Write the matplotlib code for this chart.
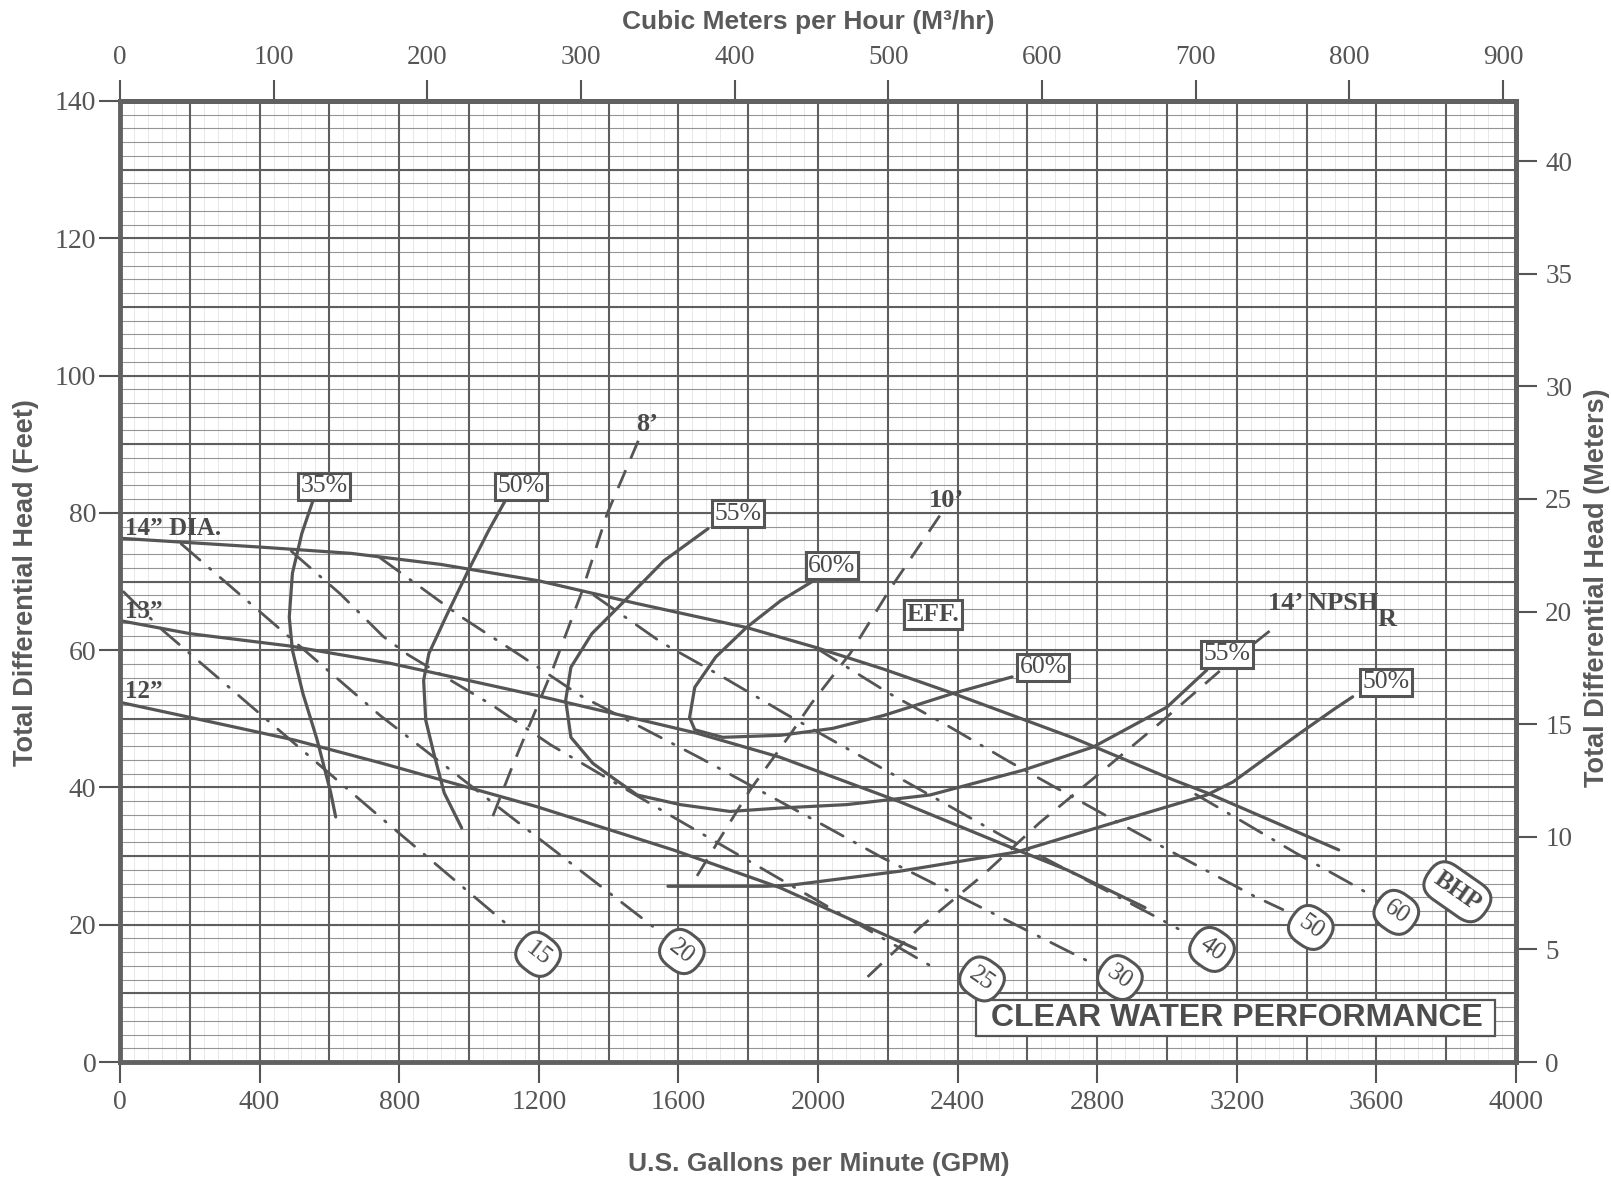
import numpy as np
import matplotlib.pyplot as plt
from matplotlib.patches import Rectangle

plt.rcParams['font.family'] = ['Liberation Serif', 'DejaVu Serif']

# =============================================================================
# data (GPM, feet)
# =============================================================================

# impeller head curves
h14_gpm = [0, 406, 662, 918, 1200, 1480, 1795, 1993, 2190, 2387, 2732, 3018, 3115, 3492]
h14_ft = [76.3, 75.0, 74.1, 72.5, 70.1, 66.8, 63.3, 60.4, 57.2, 53.7, 47.2, 41.1, 39.2, 30.9]
h13_gpm = [0, 201, 487, 773, 1194, 1412, 1653, 1891, 2235, 2570, 2713, 2937]
h13_ft = [64.3, 62.4, 60.6, 58.1, 53.4, 50.8, 47.9, 44.4, 37.9, 30.9, 28.0, 22.5]
h12_gpm = [0, 201, 500, 745, 1194, 1585, 1891, 2280]
h12_ft = [52.4, 50.2, 46.9, 43.6, 37.2, 30.9, 25.4, 16.5]

# efficiency curves
e35_gpm = [553, 521, 494, 485, 494, 524, 565, 604, 618]
e35_ft = [81.8, 77.0, 71.2, 64.8, 60.0, 53.7, 46.9, 39.2, 35.7]
e50_gpm = [1115, 1056, 998, 938, 885, 870, 876, 899, 929, 979]
e50_ft = [82.8, 77.4, 71.6, 65.3, 59.5, 55.6, 49.8, 45.0, 39.2, 34.1]
e55_gpm = [1685, 1558, 1446, 1352, 1292, 1277, 1292, 1355, 1412, 1482, 1605, 1748,
           1891, 2083, 2321, 2587, 2789, 3000, 3114]
e55_ft = [77.7, 73.0, 67.2, 62.4, 57.5, 52.7, 47.3, 43.5, 41.4, 38.9, 37.5, 36.5,
          37.0, 37.5, 38.9, 42.5, 45.9, 51.7, 57.1]
e60_gpm = [1987, 1893, 1795, 1707, 1647, 1632, 1647, 1727, 1893, 2042, 2189, 2387, 2556]
e60_ft = [70.1, 67.2, 63.3, 59.0, 54.6, 50.2, 48.4, 47.3, 47.6, 48.6, 50.5, 53.7, 56.1]
e50r_gpm = [1570, 1854, 1928, 2235, 2570, 2902, 3114, 3189, 3286, 3381, 3476, 3532]
e50r_ft = [25.6, 25.6, 25.8, 27.8, 30.6, 35.7, 38.9, 40.8, 44.4, 47.9, 51.3, 53.2]

# NPSHr lines
n8_gpm = [1485, 1396, 1322, 1242, 1189, 1126, 1055]
n8_ft = [90.5, 79.9, 68.3, 57.5, 51.0, 43.3, 34.1]
n10_gpm = [2349, 2209, 2092, 1982, 1923, 1805, 1711, 1640]
n10_ft = [79.6, 69.1, 59.5, 52.3, 47.9, 39.6, 31.9, 26.0]
n14_gpm = [2142, 2292, 2472, 2636, 2808, 2980, 3152, 3314]
n14_ft = [12.4, 19.6, 27.2, 34.9, 42.1, 49.4, 57.0, 63.6]

# brake horsepower lines
b15_gpm = [10, 120, 745, 1126]
b15_ft = [68.5, 63.0, 35.7, 19.3]
b20_gpm = [175, 745, 1194, 1538]
b20_ft = [75.5, 50.5, 32.8, 19.3]
b25_gpm = [491, 631, 754, 826, 1066, 1234, 1561, 1893, 2340]
b25_ft = [74.4, 68.2, 62.0, 59.3, 52.0, 46.2, 36.4, 26.6, 13.5]
b30_gpm = [744, 979, 1145, 1318, 1662, 2012, 2183, 2781]
b30_ft = [73.5, 64.8, 59.3, 53.4, 44.3, 34.6, 29.8, 14.5]
b40_gpm = [1358, 1552, 1727, 1904, 2082, 2526, 2974, 3032]
b40_ft = [68.0, 61.1, 56.1, 50.8, 45.7, 33.0, 21.0, 19.4]
b50_gpm = [1992, 2204, 2378, 2550, 2899, 3072, 3252, 3332]
b50_ft = [60.4, 53.7, 48.8, 43.7, 33.8, 29.0, 24.1, 22.2]
b60_gpm = [3082, 3217, 3367, 3516, 3581]
b60_ft = [39.0, 35.0, 30.5, 26.3, 24.4]

# labels
eff_text = ['35%', '50%', '55%', '60%', 'EFF.', '60%', '55%', '50%']
eff_gpm = [585, 1150, 1771, 2040, 2330, 2645, 3172, 3628]
eff_ft = [83.9, 83.9, 79.9, 72.3, 65.2, 57.5, 59.4, 55.3]

bhp_text = ['15', '20', '25', '30', '40', '50', '60', 'BHP']
bhp_gpm = [1198, 1610, 2470, 2865, 3129, 3412, 3657, 3832]
bhp_ft = [15.7, 16.1, 12.1, 12.3, 16.4, 19.6, 21.8, 24.8]
bhp_rot = [-38, -38, -35, -35, -35, -35, -35, -35]

dia_text = ['14\u201d DIA.', '13\u201d', '12\u201d']
dia_ft = [76.8, 64.7, 53.0]

npsh_text = ['8\u2019', '10\u2019', '14\u2019 NPSH']
npsh_gpm = [1510, 2367, 3290]
npsh_ft = [92.9, 81.8, 66.8]

gpm_ticks = list(range(0, 4001, 400))
ft_ticks = list(range(0, 141, 20))
m3h_ticks = list(range(0, 901, 100))
m_ticks = list(range(0, 41, 5))

GPM_PER_M3H = 4.4029
FT_PER_M = 3.2808

# =============================================================================
# plot
# =============================================================================

INK = '#555555'
TXT = '#4a4a4a'
GRID = '#5e5e5e'
SANS = ['Liberation Sans', 'DejaVu Sans']

fig = plt.figure(figsize=(16.11, 11.8), dpi=100)
ax = fig.add_axes([120 / 1611, 1 - 1062 / 1180, 1396 / 1611, 961 / 1180])
ax.set_xlim(0, 4000)
ax.set_ylim(0, 140)

# graph paper
for g in np.arange(40, 4000, 40):
    ax.axvline(g, color='#e4e4e4', lw=0.6, zorder=0)
for f in np.arange(2, 140, 2):
    ax.axhline(f, color='#959595', lw=0.8, zorder=0)
for g in np.arange(200, 4000, 200):
    ax.axvline(g, color=GRID, lw=1.5, zorder=1)
for f in np.arange(10, 140, 10):
    ax.axhline(f, color=GRID, lw=1.5, zorder=1)

solid = dict(color=INK, lw=2.3, zorder=3, solid_capstyle='round', solid_joinstyle='round')
for xs, ys in [(h14_gpm, h14_ft), (h13_gpm, h13_ft), (h12_gpm, h12_ft),
               (e35_gpm, e35_ft), (e50_gpm, e50_ft), (e55_gpm, e55_ft),
               (e60_gpm, e60_ft), (e50r_gpm, e50r_ft)]:
    ax.plot(xs, ys, **solid)

for xs, ys in [(n8_gpm, n8_ft), (n10_gpm, n10_ft), (n14_gpm, n14_ft)]:
    ax.plot(xs, ys, color=INK, lw=2.0, ls=(0, (7, 4.5)), zorder=3)

for xs, ys in [(b15_gpm, b15_ft), (b20_gpm, b20_ft), (b25_gpm, b25_ft),
               (b30_gpm, b30_ft), (b40_gpm, b40_ft), (b50_gpm, b50_ft),
               (b60_gpm, b60_ft)]:
    ax.plot(xs, ys, color=INK, lw=2.0, ls=(0, (9, 4.5, 0.6, 4.5)),
            dash_capstyle='round', zorder=3)

# labels
for t, x, y in zip(eff_text, eff_gpm, eff_ft):
    ax.text(x, y, t, ha='center', va='center', fontsize=18.5, color=TXT,
            fontweight='bold' if t == 'EFF.' else 'normal', zorder=6,
            bbox=dict(boxstyle='square,pad=0.1', fc='white', ec=INK, lw=2.2))

for t, x, y, r in zip(bhp_text, bhp_gpm, bhp_ft, bhp_rot):
    ax.text(x, y, t, ha='center', va='center', fontsize=18, color=TXT,
            rotation=r, rotation_mode='anchor', zorder=6,
            fontweight='bold' if t == 'BHP' else 'normal',
            bbox=dict(boxstyle='round,pad=0.35,rounding_size=0.75', fc='white', ec=INK, lw=2.2))

for t, y in zip(dia_text, dia_ft):
    ax.text(15, y, t, ha='left', va='baseline', fontsize=18, fontweight='bold',
            color=TXT, zorder=5)

for t, x, y in zip(npsh_text, npsh_gpm, npsh_ft):
    ax.text(x, y, t, ha='left' if 'NPSH' in t else 'center', va='center',
            fontsize=19, fontweight='bold', color=TXT, zorder=5)
ax.text(3630, 64.4, 'R', ha='center', va='center', fontsize=19,
        fontweight='bold', color=TXT, zorder=5)

ax.add_patch(Rectangle((2452, 3.8), 1489, 5.3, fc='white', ec=INK, lw=1.6, zorder=5))
ax.text(3200, 6.4, 'CLEAR WATER PERFORMANCE', ha='center', va='center',
        fontsize=23, fontweight='bold', family=SANS, color='#4d4d4d', zorder=6)

# axes
for s in ax.spines.values():
    s.set_linewidth(3.5)
    s.set_color('#616161')
    s.set_zorder(7)
ax.set_xticks(gpm_ticks)
ax.set_yticks(ft_ticks)
ax.tick_params(direction='out', length=15, width=1.5, color=INK,
               labelsize=20, labelcolor=INK)
ax.tick_params(axis='x', pad=5)
ax.tick_params(axis='y', pad=2)

top = ax.secondary_xaxis('top', functions=(lambda g: g / GPM_PER_M3H,
                                           lambda m: m * GPM_PER_M3H))
top.set_xticks(m3h_ticks)
top.tick_params(direction='out', length=15, width=1.5, color=INK,
                labelsize=19.5, labelcolor=INK, pad=7)
top.spines['top'].set_linewidth(3.5)
top.spines['top'].set_color('#616161')

right = ax.secondary_yaxis('right', functions=(lambda f: f / FT_PER_M,
                                               lambda m: m * FT_PER_M))
right.set_yticks(m_ticks)
right.tick_params(direction='out', length=15, width=1.5, color=INK,
                  labelsize=19.5, labelcolor=INK, pad=6)
right.spines['right'].set_linewidth(3.5)
right.spines['right'].set_color('#616161')

lab = dict(fontweight='bold', family=SANS, color='#5a5a5a', ha='center', va='center')
fig.text(0.502, 0.981, 'Cubic Meters per Hour (M\u00b3/hr)', fontsize=19, **lab)
fig.text(0.508, 0.0134, 'U.S. Gallons per Minute (GPM)', fontsize=19, **lab)
fig.text(0.016, 0.506, 'Total Differential Head (Feet)', rotation=90, fontsize=19.5, **lab)
fig.text(0.991, 0.502, 'Total Differential Head (Meters)', rotation=90, fontsize=19.5, **lab)

fig.savefig('out.png', dpi=100, facecolor='white')
